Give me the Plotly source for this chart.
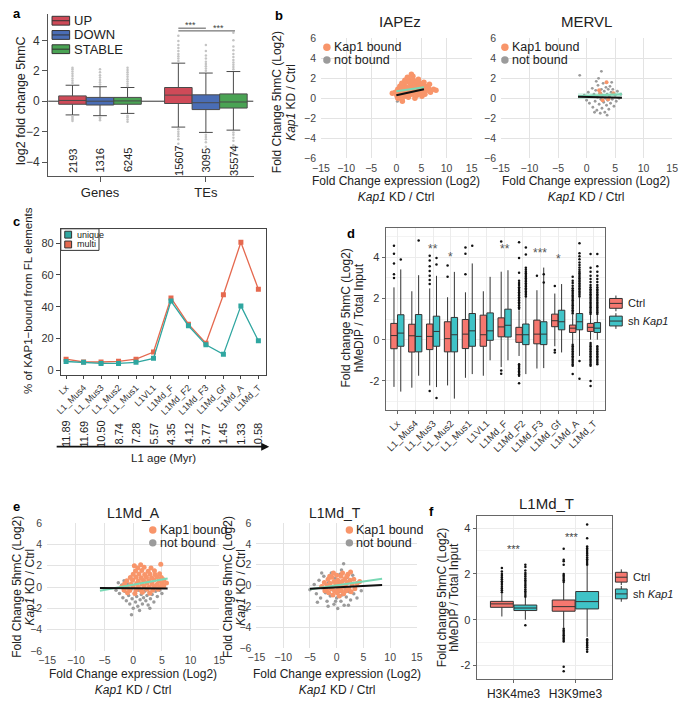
import plotly.graph_objects as go

W, H = 685, 701
FONT = "Liberation Sans, Arial, sans-serif"
ORANGE = "#f8956a"
GREY = "#9b9b9b"
MINT = "#7ad9b5"
CTRL = "#f6776f"
SH = "#3fc3c7"
TEAL = "#2fa6a0"
RED = "#e5694f"

# ---------------- panel a : boxplot stats ----------------
a_groups = ["Genes", "TEs"]
up_counts = [2193, 15607]
down_counts = [1316, 3095]
stable_counts = [6245, 35574]
up_q1, up_med, up_q3, up_lo, up_hi = [-0.2, -0.15], [0.05, 0.4], [0.35, 0.9], [-0.9, -1.7], [1.05, 2.5]
down_q1, down_med, down_q3, down_lo, down_hi = [-0.25, -0.55], [0.0, -0.1], [0.25, 0.42], [-0.95, -2.05], [0.95, 1.85]
stable_q1, stable_med, stable_q3, stable_lo, stable_hi = [-0.2, -0.45], [0.02, -0.05], [0.25, 0.48], [-0.8, -1.9], [0.9, 1.95]
up_out = [[1.2, 1.35, 1.5, 1.65, 1.8, 1.95, 2.1, 2.2, -1.0, -1.1, -1.2, -1.3],
          [2.65, 2.8, 2.95, 3.1, 3.3, 3.5, 3.7, 3.95, 4.3, -1.85, -2.0, -2.15, -2.3, -2.5, -2.8]]
down_out = [[1.1, 1.25, 1.4, 1.55, 1.7, 1.9, 2.1, -1.05, -1.15, -1.25],
            [2.0, 2.15, 2.3, 2.45, 2.6, 2.8, 3.0, 3.3, 3.7, -2.2, -2.35, -2.5, -2.7, -3.0]]
stable_out = [[1.0, 1.15, 1.3, 1.45, 1.6, 1.75, 1.9, 2.05, 2.2, -0.95, -1.05, -1.2, -1.35],
              [2.1, 2.25, 2.4, 2.55, 2.7, 2.9, 3.1, 3.35, 3.6, 4.0, 4.5, -2.05, -2.2, -2.4, -2.6, -2.9, -3.3]]

# ---------------- panel b : scatter clouds ----------------
iapez_bound = [(0.3, 0.0), (1.1, -0.1), (2.4, 0.1), (3.7, 0.0), (5.1, 0.2),
               (0.1, 0.3), (0.9, 0.4), (1.7, 0.2), (2.3, 0.3), (3.1, 0.4), (4.1, 0.3), (4.7, 0.5), (5.7, 0.4),
               (-0.2, 0.6), (0.6, 0.7), (1.3, 0.5), (2.0, 0.6), (2.9, 0.7), (3.5, 0.6), (4.4, 0.7), (5.3, 0.6), (6.1, 0.8), (6.8, 0.6),
               (0.3, 0.9), (1.0, 1.0), (1.6, 0.8), (2.6, 0.9), (3.3, 1.0), (4.0, 0.9), (4.9, 1.1), (5.6, 0.9), (6.4, 1.0), (7.4, 0.9),
               (0.7, 1.2), (1.5, 1.3), (2.1, 1.1), (3.0, 1.2), (3.9, 1.3), (4.5, 1.2), (5.4, 1.3), (6.2, 1.2),
               (1.1, 1.5), (1.9, 1.6), (2.8, 1.5), (3.6, 1.6), (4.7, 1.5), (5.5, 1.6),
               (1.7, 1.8), (2.5, 1.9), (3.4, 1.8), (4.4, 1.9), (2.2, 2.1), (3.3, 2.2),
               (-0.8, 0.5), (7.9, 0.8), (3.0, 2.4), (1.2, -0.3), (4.2, 1.7), (6.6, 1.4)]
iapez_not = [(0.2, -0.3), (0.0, 0.1)]
iapez_fit_x = [0.0, 5.5]
iapez_fit_bound = [0.7, 1.1]
iapez_fit_all = [0.3, 0.9]

mervl_not = [(-0.4, 0.3), (0.0, -0.2), (0.3, 0.6), (0.5, -0.5), (0.8, 0.2), (1.0, 1.0), (1.1, -0.9), (1.3, 0.4),
             (1.5, -0.3), (1.6, 0.8), (1.8, -1.2), (1.9, 0.1), (2.0, 1.3), (2.2, -0.6), (2.3, 0.5), (2.5, -0.1),
             (2.6, 0.9), (2.7, -1.0), (2.8, 0.3), (2.9, 1.5), (3.0, -0.4), (3.1, 0.7), (3.2, -1.4), (3.3, 0.0),
             (3.4, 1.1), (3.5, -0.7), (3.6, 0.4), (3.7, -0.2), (3.8, 0.9), (3.9, -1.1), (4.0, 0.2), (4.1, 1.2),
             (4.2, -0.5), (4.3, 0.6), (4.5, -0.1), (4.6, 0.9), (4.8, -0.8), (5.0, 0.3), (5.2, -0.3), (5.4, 0.7),
             (5.7, 0.0), (6.0, 0.4), (2.4, -1.5), (3.6, -1.7), (1.4, -1.4), (2.1, 2.0), (-1.2, 2.3), (2.6, 2.7),
             (1.7, 1.7), (4.4, 1.6)]
mervl_bound = [(2.2, 0.8), (2.4, 0.5), (3.5, 1.6), (3.8, -0.1), (4.7, 0.5), (2.8, -0.2)]
mervl_fit_x = [-1.5, 6.2]
mervl_fit_bound = [0.2, 0.4]
mervl_band_hi = [0.5, 0.6]
mervl_band_lo = [-0.1, 0.15]
mervl_fit_all = [0.15, 0.05]

# ---------------- panel c : line chart ----------------
l1_families = ["Lx", "L1_Mus4", "L1_Mus3", "L1_Mus2", "L1_Mus1", "L1VL1",
               "L1Md_F", "L1Md_F2", "L1Md_F3", "L1Md_Gf", "L1Md_A", "L1Md_T"]
multi_pct = [7.0, 5.2, 5.2, 5.6, 7.0, 11.5, 45.5, 29.0, 17.0, 47.5, 80.5, 51.0]
unique_pct = [5.5, 5.0, 4.3, 4.3, 5.0, 7.5, 43.5, 28.0, 16.0, 10.0, 40.5, 18.5]
l1_age = ["11.89", "11.69", "10.50", "8.74", "7.28", "5.57", "4.35", "4.12", "3.77", "1.45", "1.33", "0.58"]

# ---------------- panel d : boxplot stats ----------------
ctrl_q1 = [-0.44, -0.60, -0.48, -0.59, -0.43, -0.32, 0.14, -0.13, -0.20, 0.63, 0.35, 0.40]
ctrl_med = [0.20, 0.19, 0.16, 0.05, 0.27, 0.24, 0.62, 0.24, 0.27, 0.92, 0.56, 0.60]
ctrl_q3 = [0.79, 0.75, 0.76, 0.87, 0.98, 1.19, 1.06, 0.60, 0.95, 1.24, 0.71, 0.79]
ctrl_lo = [-2.29, -2.33, -2.22, -2.22, -1.85, -1.75, -1.33, -0.79, -1.40, -0.32, -0.20, 0.00]
ctrl_hi = [2.54, 2.35, 2.49, 2.06, 2.30, 2.35, 3.30, 1.43, 2.40, 2.24, 1.20, 1.19]
sh_q1 = [-0.32, -0.59, -0.32, -0.59, -0.32, -0.03, 0.13, -0.24, -0.24, 0.48, 0.48, 0.35]
sh_med = [0.32, 0.16, 0.40, 0.24, 0.43, 0.43, 0.70, 0.24, 0.27, 0.87, 0.87, 0.56]
sh_q3 = [1.21, 1.22, 1.14, 1.08, 1.27, 1.30, 1.48, 0.76, 0.87, 1.43, 1.27, 0.83]
sh_lo = [-2.52, -1.75, -2.30, -2.86, -1.67, -1.00, -1.00, -1.67, -1.38, -0.62, -0.79, 0.00]
sh_hi = [3.41, 3.13, 3.10, 3.29, 3.70, 3.05, 3.37, 2.06, 3.50, 2.70, 2.06, 1.19]
ctrl_out = [
    [4.56, 4.17, 3.70, 3.17, 2.99],
    [],
    [2.70, 2.90, 3.10, 3.33, 3.57, 3.84, 4.08, -2.49],
    [3.05, 3.60],
    [3.17, 4.17, 4.48],
    [],
    [4.76, -1.50, -1.65],
    [1.50, 1.58, 1.66, 1.74, 1.82, 1.90, 1.98, 2.06, 2.14, 2.22, 2.30, 2.38, 2.46, 2.55, 2.65, 2.75, 2.86, 3.25, 3.97, 4.73,
     -1.19, -1.26, -1.33, -1.40, -1.47, -1.54, -1.61, -1.68, -1.75, -2.11],
    [3.10],
    [2.60, -0.50, -0.62],
    [1.27, 1.35, 1.43, 1.51, 1.59, 1.67, 1.75, 1.83, 1.91, 1.99, 2.07, 2.15, 2.23, 2.31, 2.40, 2.50, 2.62, 2.75, 2.86, 3.05,
     -0.24, -0.32, -0.40, -0.48, -0.56, -0.64, -0.72, -0.80, -0.88, -0.96, -1.04, -1.12, -1.20, -1.27, -1.67],
    [1.25, 1.33, 1.41, 1.49, 1.57, 1.65, 1.73, 1.81, 1.89, 1.97, 2.05, 2.13, 2.21, 2.29, 2.37, 2.45, 2.55, 2.65, 2.80, 2.95,
     3.10, 3.30, 3.49, 4.16, -0.16, -0.24, -0.32, -0.40, -0.48, -0.56, -0.64, -0.72, -0.80, -0.88, -0.96, -1.04, -1.12,
     -1.20, -1.27, -2.00, -2.25],
]
sh_out = [
    [3.89],
    [4.81],
    [3.65, 3.97, -2.83],
    [],
    [4.56],
    [],
    [],
    [2.10, 2.18, 2.26, 2.34, 2.42, 2.50, 2.58, 2.66, 2.74, 2.82, 2.90, 2.98, 3.06, 3.14, 3.22, 3.30, 3.40, 3.49, 4.14, 4.48],
    [3.17, 2.78],
    [],
    [2.10, 2.18, 2.26, 2.34, 2.42, 2.50, 2.58, 2.66, 2.74, 2.82, 2.90, 2.98, 3.06, 3.14, 3.22, 3.30, 3.40, 3.50, 3.62,
     3.75, 3.90, 4.05, 4.20, 4.68, -1.03, -1.90],
    [1.25, 1.33, 1.41, 1.49, 1.57, 1.65, 1.73, 1.81, 1.89, 1.97, 2.05, 2.13, 2.21, 2.29, 2.37, 2.45, 2.55, 2.65, 2.80, 2.95,
     3.10, 3.30, 3.57, 4.16, -0.32, -0.40, -0.48, -0.56, -0.64, -0.72, -0.80, -0.88, -0.96, -1.04, -1.12, -1.19],
]
d_signif = [("**", 2, 4.38), ("*", 3, 4.0), ("**", 6, 4.38), ("***", 8, 4.2), ("*", 9, 3.94)]

# ---------------- panel e : scatter clouds ----------------
l1a_not = [(-3.0, -0.3), (-2.4, -0.6), (-2.0, 0.2), (-1.8, -1.0), (-1.5, -0.4), (-1.2, -1.3), (-1.0, 0.3), (-0.8, -0.8),
           (-0.6, -1.6), (-0.4, -0.2), (-0.2, -1.1), (0.0, -2.0), (0.2, -0.6), (0.4, -1.4), (0.6, -0.9), (0.8, -1.8),
           (1.0, -0.3), (1.2, -1.2), (1.4, -0.7), (1.6, -1.6), (1.8, -1.0), (2.0, -0.4), (2.2, -1.3), (2.4, -0.8),
           (2.6, -1.7), (2.8, -0.5), (3.0, -1.1), (3.3, -0.7), (3.6, -1.4), (3.9, -0.4), (4.2, -0.9), (4.6, -0.3),
           (5.0, -0.6), (5.4, 0.1), (-0.3, -2.6), (1.1, -2.2), (0.5, 0.9), (-1.6, 0.6), (2.9, -2.0), (-2.6, 0.4)]
l1a_bound = [(-1.0, -0.55), (0.3, -0.62), (1.6, -0.5), (2.9, -0.58),
             (-1.6, -0.28), (-0.6, -0.33), (0.5, -0.25), (1.4, -0.31), (2.4, -0.22), (3.4, -0.3), (4.3, -0.2),
             (-2.0, 0.02), (-1.0, -0.05), (0.0, 0.04), (0.9, -0.02), (1.9, 0.05), (2.8, 0.0), (3.7, 0.06), (4.6, -0.03), (5.3, 0.08),
             (-1.5, 0.3), (-0.4, 0.27), (0.6, 0.33), (1.5, 0.28), (2.4, 0.35), (3.3, 0.3), (4.2, 0.26), (5.0, 0.34), (5.8, 0.38),
             (-1.1, 0.6), (-0.1, 0.63), (0.9, 0.57), (1.8, 0.62), (2.7, 0.58), (3.6, 0.65), (4.5, 0.6), (5.3, 0.68),
             (-0.5, 0.9), (0.5, 0.93), (1.4, 0.87), (2.3, 0.92), (3.2, 0.88), (4.1, 0.95), (4.9, 0.9),
             (0.0, 1.2), (1.0, 1.23), (2.0, 1.17), (2.9, 1.22), (3.8, 1.18), (4.6, 1.25),
             (0.4, 1.5), (1.5, 1.55), (2.6, 1.48), (3.7, 1.52), (0.8, 1.8), (1.9, 1.85), (3.1, 1.78),
             (1.3, 2.1), (4.8, 2.15), (0.2, 2.0)]
l1a_fit_x = [-5.8, 6.0]
l1a_fit_bound = [-0.35, 0.8]
l1a_fit_all = [-0.1, -0.15]

l1t_not = [(-5.0, -0.4), (-4.2, 0.1), (-3.8, -0.8), (-3.3, 0.5), (-3.0, -1.2), (-2.7, -0.2), (-2.4, 0.9), (-2.1, -0.7),
           (-1.8, -1.5), (-1.5, 0.3), (-1.2, -1.0), (-1.0, 1.2), (-0.8, -0.4), (-0.5, -1.8), (-0.3, 0.7), (0.0, -1.2),
           (0.2, -2.2), (0.4, -0.6), (0.6, 1.1), (0.8, -1.5), (1.0, -0.9), (1.2, 0.4), (1.4, -1.9), (1.6, -0.3),
           (1.8, -1.1), (2.0, 0.8), (2.3, -0.6), (2.6, -1.4), (2.9, 0.2), (3.2, -0.8), (3.5, -0.2), (3.8, -1.2),
           (4.2, 0.3), (4.6, -0.5), (-1.6, -2.0), (0.9, 1.5), (-2.8, 1.2), (2.2, -1.9), (1.3, 2.1), (-0.2, -1.5),
           (3.0, 1.0), (-3.6, -1.6)]
l1t_bound = [(-2.8, -0.1), (-2.3, 0.3), (-2.2, -0.5), (-1.8, 0.0), (-1.6, 0.6), (-1.5, -0.7), (-1.2, 0.2), (-1.0, -0.3),
             (-0.9, 0.8), (-0.7, -0.9), (-0.5, 0.4), (-0.4, -0.5), (-0.2, 0.0), (0.0, 1.0), (0.1, -0.7), (0.2, 0.5),
             (0.4, -0.2), (0.5, -1.0), (0.6, 0.2), (0.8, 0.9), (0.9, -0.5), (1.0, 0.4), (1.2, -0.1), (1.3, -0.8),
             (1.5, 0.6), (1.6, 0.0), (1.8, -0.5), (2.0, 0.3), (2.1, 1.1), (2.3, -0.3), (2.5, 0.5), (2.7, -0.6),
             (2.9, 0.1), (3.2, 0.6), (3.4, -0.3), (3.8, 0.2), (-0.6, 1.2), (1.1, 1.2), (-1.9, -0.4), (0.3, -0.4),
             (-0.1, 0.3), (0.7, -0.4), (1.9, 0.9), (-1.3, 0.9), (4.3, 0.4), (2.6, 1.3)]
l1t_fit_x = [-5.0, 8.5]
l1t_fit_bound = [-0.35, 0.65]
l1t_fit_all = [-0.3, 0.05]

# ---------------- panel f : boxplot stats ----------------
f_marks = ["H3K4me3", "H3K9me3"]
f_ctrl_q1, f_ctrl_med, f_ctrl_q3, f_ctrl_lo, f_ctrl_hi = [0.54, 0.37], [0.69, 0.57], [0.80, 0.86], [0.14, -0.35], [1.15, 1.60]
f_sh_q1, f_sh_med, f_sh_q3, f_sh_lo, f_sh_hi = [0.40, 0.47], [0.51, 0.79], [0.64, 1.23], [0.00, -0.75], [0.95, 2.35]
f_ctrl_out = [[1.20, 1.28, 1.36, 1.44, 1.52, 1.60, 1.68, 1.76, 1.84, 1.92, 2.00, 2.10, 2.26],
              [1.65, 1.72, 1.79, 1.86, 1.93, 2.00, 2.40, 2.55, 2.62, 3.10,
               -0.40, -0.47, -0.54, -0.61, -0.68, -0.75, -0.82, -0.89, -0.95, -2.05, -2.25]]
f_sh_out = [[1.00, 1.08, 1.16, 1.24, 1.32, 1.40, 1.48, 1.56, 1.64, 1.72, 1.80, 1.88, 1.96, 2.04, 2.15, 2.30, 2.40, -0.24],
            [2.40, 2.48, 2.56, 2.64, 2.72, 2.80, 2.88, 2.96, 3.04, 3.12, 3.20, 3.55, 4.15,
             -0.85, -0.92, -0.99, -1.06, -1.13, -1.20, -1.30, -1.40]]

XTITLE = "Fold Change expression (Log2)<br><i>Kap1</i> KD / Ctrl"


def fx(p):
    return p / W


def fy(p):
    return 1 - p / H


fig = go.Figure()
anns = []
shapes = []


def txt(x, y, s, size=11, angle=0, color="#222", xanchor="center", yanchor="middle", xref="paper", yref="paper"):
    anns.append(dict(x=fx(x) if xref == "paper" else x, y=fy(y) if yref == "paper" else y,
                     xref=xref, yref=yref, text=s, showarrow=False, textangle=angle,
                     font=dict(size=size, color=color, family=FONT), xanchor=xanchor, yanchor=yanchor))


def rect(x0, y0, x1, y1, fill, line="#333", lw=1):
    shapes.append(dict(type="rect", xref="paper", yref="paper", x0=fx(x0), x1=fx(x1), y0=fy(y1), y1=fy(y0),
                       fillcolor=fill, line=dict(color=line, width=lw)))


def seg(x0, y0, x1, y1, color="#333", lw=1):
    shapes.append(dict(type="line", xref="paper", yref="paper", x0=fx(x0), x1=fx(x1), y0=fy(y0), y1=fy(y1),
                       line=dict(color=color, width=lw)))


def dot(cx, cy, r, color):
    shapes.append(dict(type="circle", xref="paper", yref="paper", x0=fx(cx - r), x1=fx(cx + r),
                       y0=fy(cy + r), y1=fy(cy - r), fillcolor=color, line=dict(width=0)))


def add_box(xs, q1, med, q3, lo, hi, fill, ax, width, ww, linecol):
    fig.add_trace(go.Box(x=xs, q1=q1, median=med, q3=q3, lowerfence=lo, upperfence=hi,
                         fillcolor=fill, line=dict(color=linecol, width=1), width=width, whiskerwidth=ww,
                         boxpoints=False, xaxis="x" + ax, yaxis="y" + ax, hoverinfo="skip"))


def add_pts(xs, ys, ax, color, size, symbol="circle"):
    fig.add_trace(go.Scatter(x=xs, y=ys, mode="markers", xaxis="x" + ax, yaxis="y" + ax,
                             marker=dict(color=color, size=size, symbol=symbol, line=dict(width=0)),
                             hoverinfo="skip"))


def add_line(xs, ys, ax, color, width=2):
    fig.add_trace(go.Scatter(x=xs, y=ys, mode="lines", xaxis="x" + ax, yaxis="y" + ax,
                             line=dict(color=color, width=width), hoverinfo="skip"))


# ---------- a ----------
a_pos = [1, 3]
a_spec = [("UP", "#cf4a58", -0.52, up_q1, up_med, up_q3, up_lo, up_hi, up_out, up_counts),
          ("DOWN", "#4a6db5", 0.0, down_q1, down_med, down_q3, down_lo, down_hi, down_out, down_counts),
          ("STABLE", "#4aa354", 0.52, stable_q1, stable_med, stable_q3, stable_lo, stable_hi, stable_out, stable_counts)]
for cls, col, off, q1, med, q3, lo, hi, outs, counts in a_spec:
    xs = [p + off for p in a_pos]
    for x, o in zip(xs, outs):
        add_pts([x] * len(o), o, "", "#c4c4c4", 2.5)
    add_box(xs, q1, med, q3, lo, hi, col, "", 0.52, 0.5, "#4a4a4a")
    for x, c in zip(xs, counts):
        txt(x, -3.9, str(c), size=11, angle=-90, xref="x", yref="y")
shapes.append(dict(type="line", xref="x", yref="y", x0=0.02, x1=3.9, y0=0, y1=0,
                   line=dict(color="#333", width=1), layer="below"))
shapes.append(dict(type="line", xref="x", yref="y", x0=2.48, x1=3.0, y0=4.8, y1=4.8, line=dict(color="#555", width=1)))
shapes.append(dict(type="line", xref="x", yref="y", x0=2.48, x1=3.55, y0=4.62, y1=4.62, line=dict(color="#555", width=1)))
txt(186, 19, "***", size=9, color="#444")
txt(214, 22, "***", size=9, color="#444")
txt(13, 96, "log2 fold change 5hmC", size=12.5, angle=-90)
for k, (cls, col, *_rest) in enumerate(a_spec):
    yy = 15 + k * 14.5
    rect(44, yy - 4.5, 62, yy + 4.5, col, "#333", 1)
    seg(44, yy, 62, yy, "#333", 1)
    txt(64, yy, cls, size=13, xanchor="left")

# ---------- b ----------
add_pts([p[0] for p in iapez_not], [p[1] for p in iapez_not], "2", GREY, 3)
add_pts([p[0] for p in iapez_bound], [p[1] for p in iapez_bound], "2", ORANGE, 5.5)
add_line(iapez_fit_x, iapez_fit_bound, "2", MINT, 2)
add_line(iapez_fit_x, iapez_fit_all, "2", "#111", 2)

add_pts([p[0] for p in mervl_not], [p[1] for p in mervl_not], "3", GREY, 2.8)
add_pts([p[0] for p in mervl_bound], [p[1] for p in mervl_bound], "3", ORANGE, 4)
fig.add_trace(go.Scatter(x=mervl_fit_x + mervl_fit_x[::-1], y=mervl_band_hi + mervl_band_lo[::-1], fill="toself",
                         fillcolor="rgba(122,217,181,0.3)", line=dict(width=0), mode="lines",
                         xaxis="x3", yaxis="y3", hoverinfo="skip"))
add_line(mervl_fit_x, mervl_fit_bound, "3", MINT, 2)
add_line(mervl_fit_x, mervl_fit_all, "3", "#111", 2)

for lx, ly in [(325, 42), (507, 42), (147, 534), (348, 534)]:
    dot(lx, ly, 3.8, ORANGE)
    txt(lx + 5, ly, "Kap1 bound", size=12.5, xanchor="left")
    dot(lx, ly + 13, 3.8, GREY)
    txt(lx + 5, ly + 13, "not bound", size=12.5, xanchor="left")

txt(400, 16, "IAPEz", size=15)
txt(590, 16, "MERVL", size=15)
txt(274, 98, "Fold Change 5hmC (Log2)", size=12, angle=-90)
txt(289, 98, "<i>Kap1</i> KD / Ctrl", size=12, angle=-90)
for cx in (396, 590):
    txt(cx, 186.5, XTITLE, size=12)

# ---------- c ----------
cx_pos = list(range(len(l1_families)))
fig.add_trace(go.Scatter(x=cx_pos, y=multi_pct, mode="lines+markers", xaxis="x4", yaxis="y4",
                         line=dict(color=RED, width=1.3), marker=dict(symbol="square", size=5, color=RED),
                         hoverinfo="skip"))
fig.add_trace(go.Scatter(x=cx_pos, y=unique_pct, mode="lines+markers", xaxis="x4", yaxis="y4",
                         line=dict(color=TEAL, width=1.3), marker=dict(symbol="square", size=5, color=TEAL),
                         hoverinfo="skip"))
rect(53, 227, 92, 249, "white", "#333", 1)
for k, (nm, col) in enumerate([("unique", TEAL), ("multi", RED)]):
    yy = 233 + k * 10
    rect(57, yy - 3.5, 64, yy + 3.5, col, "#333", 1)
    txt(67, yy, nm, size=9, xanchor="left")
for i, age in enumerate(l1_age):
    anns.append(dict(x=i, y=fy(436), xref="x4", yref="paper", text=age, showarrow=False, textangle=-90,
                     font=dict(size=11, color="#222", family=FONT), xanchor="center", yanchor="middle"))
anns.append(dict(x=fx(266), y=fy(449), ax=-214, ay=0, xref="paper", yref="paper", axref="pixel",
                 ayref="pixel", text="", showarrow=True, arrowhead=2, arrowsize=1, arrowwidth=1.6, arrowcolor="#111"))
txt(158, 461, "L1 age (Myr)", size=11.5)
txt(20, 300, "% of KAP1−bound from FL elements", size=11.5, angle=-90)

# ---------- d ----------
dx = list(range(len(l1_families)))
for off, outs in [(-0.19, ctrl_out), (0.19, sh_out)]:
    xs, ys = [], []
    for i, o in enumerate(outs):
        xs += [i + off] * len(o)
        ys += o
    add_pts(xs, ys, "5", "#111", 2.5)
add_box([i - 0.19 for i in dx], ctrl_q1, ctrl_med, ctrl_q3, ctrl_lo, ctrl_hi, CTRL, "5", 0.36, 0, "#333")
add_box([i + 0.19 for i in dx], sh_q1, sh_med, sh_q3, sh_lo, sh_hi, SH, "5", 0.36, 0, "#333")
for s, i, v in d_signif:
    txt(i, v, s, size=12, color="#555", xref="x5", yref="y5")
txt(345, 318, "Fold change 5hmC (Log2)", size=12, angle=-90)
txt(358, 318, "hMeDIP / Total Input", size=12, angle=-90)


def gg_key(x0, x1, yy, fill, label, size):
    xm = (x0 + x1) / 2
    seg(xm, yy - 8, xm, yy + 8, "#333", 1)
    rect(x0, yy - 5, x1, yy + 5, fill, "#333", 1)
    seg(x0, yy, x1, yy, "#333", 1)
    txt(x1 + 4, yy, label, size=size, xanchor="left")


gg_key(614, 627, 303, CTRL, "Ctrl", 11)
gg_key(614, 627, 321, SH, "sh <i>Kap1</i>", 11)

# ---------- e ----------
for ax, notp, bnd, fxv, fb, fa in [("6", l1a_not, l1a_bound, l1a_fit_x, l1a_fit_bound, l1a_fit_all),
                                   ("7", l1t_not, l1t_bound, l1t_fit_x, l1t_fit_bound, l1t_fit_all)]:
    add_pts([p[0] for p in notp], [p[1] for p in notp], ax, GREY, 3.5)
    add_pts([p[0] for p in bnd], [p[1] for p in bnd], ax, ORANGE, 5)
    add_line(fxv, fb, ax, MINT, 2)
    add_line(fxv, fa, ax, "#111", 2)
txt(127, 517, "L1Md_A", size=14)
txt(333, 517, "L1Md_T", size=14)
for cx in (8, 224):
    txt(cx, 592, "Fold Change 5hmC (Log2)", size=12, angle=-90)
    txt(cx + 13, 592, "<i>Kap1</i> KD / Ctrl", size=12, angle=-90)
for cx in (127, 335):
    txt(cx, 688.5, XTITLE, size=12)

# ---------- f ----------
fpos = [1, 2]
for off, outs in [(-0.19, f_ctrl_out), (0.19, f_sh_out)]:
    xs, ys = [], []
    for p, o in zip(fpos, outs):
        xs += [p + off] * len(o)
        ys += o
    add_pts(xs, ys, "8", "#111", 2.5)
add_box([p - 0.19 for p in fpos], f_ctrl_q1, f_ctrl_med, f_ctrl_q3, f_ctrl_lo, f_ctrl_hi, CTRL, "8", 0.37, 0, "#333")
add_box([p + 0.19 for p in fpos], f_sh_q1, f_sh_med, f_sh_q3, f_sh_lo, f_sh_hi, SH, "8", 0.37, 0, "#333")
txt(1.0, 3.1, "***", size=11, color="#444", xref="x8", yref="y8")
txt(1.95, 3.6, "***", size=11, color="#444", xref="x8", yref="y8")
txt(550, 507, "L1Md_T", size=15)
txt(442, 603, "Fold change 5hmC (Log2)", size=12, angle=-90)
txt(455, 603, "hMeDIP / Total Input", size=12, angle=-90)
gg_key(620, 632, 582, CTRL, "Ctrl", 11)
gg_key(620, 632, 599, SH, "sh <i>Kap1</i>", 11)

# panel letters
for s, x, y in [("a", 8, 8), ("b", 276, 10), ("c", 8, 220), ("d", 350, 232), ("e", 8, 510), ("f", 432, 515)]:
    txt(x, y, "<b>" + s + "</b>", size=13, color="#000")

# ---------- axes ----------
tf = dict(size=10.5, color="#444", family=FONT)
sc_x = dict(range=[-15, 15], tickvals=[-15, -10, -5, 0, 5, 10, 15], showgrid=True, gridcolor="#e3e3e3",
            zeroline=False, showline=False, ticks="", tickfont=tf, ticklabelstandoff=2)
sc_y = dict(range=[-6, 6], tickvals=[-6, -4, -2, 0, 2, 4, 6], showgrid=True, gridcolor="#e3e3e3",
            zeroline=False, showline=False, ticks="", tickfont=tf, ticklabelstandoff=4)
gg_y = dict(tickvals=[-2, 0, 2, 4], ticktext=["-2", "0", "2", "4"], showgrid=True, gridcolor="#ececec",
            minor=dict(dtick=1, tick0=1, showgrid=True, gridcolor="#f3f3f3"), zeroline=False,
            showline=True, mirror=True, linecolor="#666", ticks="outside", ticklen=3, tickcolor="#666",
            tickfont=dict(size=11, color="#333", family=FONT))

fig.update_layout(
    width=W, height=H, margin=dict(l=0, r=0, t=0, b=0),
    paper_bgcolor="white", plot_bgcolor="white",
    font=dict(family=FONT, color="#222"),
    boxmode="overlay", showlegend=False,
    xaxis=dict(domain=[fx(40), fx(250)], range=[0.02, 3.9], tickvals=a_pos, ticktext=a_groups,
               showline=True, linecolor="#555", ticks="outside", ticklen=5, tickcolor="#555",
               showgrid=False, zeroline=False, tickfont=dict(size=13, color="#222", family=FONT)),
    yaxis=dict(domain=[fy(173), fy(8)], range=[-4.9, 5.74], tickvals=[-4, -2, 0, 2, 4],
               showline=True, linecolor="#555", ticks="outside", ticklen=5, tickcolor="#555",
               showgrid=False, zeroline=False, tickfont=dict(size=12, color="#333", family=FONT)),
    xaxis2=dict(domain=[fx(319), fx(473)], anchor="y2", **sc_x),
    yaxis2=dict(domain=[fy(155), fy(33)], anchor="x2", **sc_y),
    xaxis3=dict(domain=[fx(503), fx(678)], anchor="y3", **sc_x),
    yaxis3=dict(domain=[fy(155), fy(33)], anchor="x3", **sc_y),
    xaxis4=dict(domain=[fx(53), fx(263)], anchor="y4", range=[-0.3, 11.45], tickvals=cx_pos, ticktext=l1_families,
                tickangle=-45, showline=True, mirror=True, linecolor="#444", ticks="outside", ticklen=3,
                tickcolor="#444", showgrid=False, zeroline=False, tickfont=dict(size=9, color="#333", family=FONT)),
    yaxis4=dict(domain=[fy(376), fy(227)], anchor="x4", range=[-3, 89], tickvals=[0, 20, 40, 60, 80],
                showline=True, mirror=True, linecolor="#444", ticks="outside", ticklen=4, tickcolor="#444",
                showgrid=False, zeroline=False, tickfont=dict(size=11, color="#333", family=FONT)),
    xaxis5=dict(domain=[fx(385), fx(609)], anchor="y5", range=[-0.66, 11.6], tickvals=dx, ticktext=l1_families,
                tickangle=-45, showgrid=True, gridcolor="#ececec", showline=True, mirror=True, linecolor="#666",
                ticks="outside", ticklen=3, tickcolor="#666", zeroline=False,
                tickfont=dict(size=9.5, color="#333", family=FONT)),
    yaxis5=dict(domain=[fy(412), fy(226)], anchor="x5", range=[-3.43, 5.43], **gg_y),
    xaxis6=dict(domain=[fx(39), fx(215)], anchor="y6", **sc_x),
    yaxis6=dict(domain=[fy(657), fy(527)], anchor="x6", **sc_y),
    xaxis7=dict(domain=[fx(253), fx(417)], anchor="y7", **sc_x),
    yaxis7=dict(domain=[fy(654), fy(527)], anchor="x7", **sc_y),
    xaxis8=dict(domain=[fx(478), fx(617)], anchor="y8", range=[0.4, 2.6], tickvals=fpos, ticktext=f_marks,
                showgrid=True, gridcolor="#ececec", showline=True, mirror=True, linecolor="#666",
                ticks="outside", ticklen=3, tickcolor="#666", zeroline=False,
                tickfont=dict(size=12, color="#222", family=FONT)),
    yaxis8=dict(domain=[fy(686), fy(520)], anchor="x8", range=[-2.6, 4.51], **gg_y),
    annotations=anns,
    shapes=shapes,
)

fig.write_html("out.html", config={"displayModeBar": False},
               post_script="document.body.style.margin='0';")
